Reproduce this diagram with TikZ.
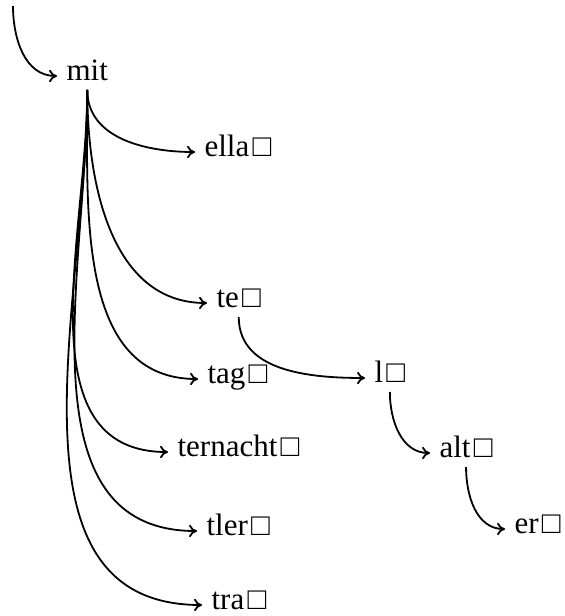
\documentclass[tikz,border=0pt]{standalone}
\usepackage{fontspec}
\setmainfont{Liberation Serif}
\usetikzlibrary{arrows.meta}
\newcommand\trieleaf{\kern1.6pt□}
\tikzset{
  word/.style={anchor=mid west, inner xsep=4.6pt, inner ysep=2pt, text depth=0.25em,
    font=\fontsize{15.5pt}{18pt}\selectfont},
  link/.style={-{To[length=4pt,width=6.2pt]}, line width=0.9pt, out=-90, in=180}
}
\begin{document}
\begin{tikzpicture}[x=0.5pt,y=-0.5pt]
\useasboundingbox (0,0) rectangle (564,616);
\coordinate (root) at (13,6);
\node[word] (mit) at (57,76) {mit};
\node[word] (ella) at (195,152) {ella\trieleaf};
\node[word] (te) at (207,303) {te\trieleaf};
\node[word] (tag) at (198,379) {tag\trieleaf};
\node[word] (ternacht) at (168,452) {ternacht\trieleaf};
\node[word] (tler) at (197,531) {tler\trieleaf};
\node[word] (tra) at (202,605) {tra\trieleaf};
\node[word] (l) at (365,378) {l\trieleaf};
\node[word] (alt) at (430,453) {alt\trieleaf};
\node[word] (er) at (505,529) {er\trieleaf};
\draw[link] (root) to (mit.mid west);
\foreach \c in {ella,te,tag,ternacht,tler,tra}
  \draw[link] (mit.south) to (\c.mid west);
\draw[link] (te.south) to (l.mid west);
\draw[link] (l.south) to (alt.mid west);
\draw[link] (alt.south) to (er.mid west);
\end{tikzpicture}
\end{document}
